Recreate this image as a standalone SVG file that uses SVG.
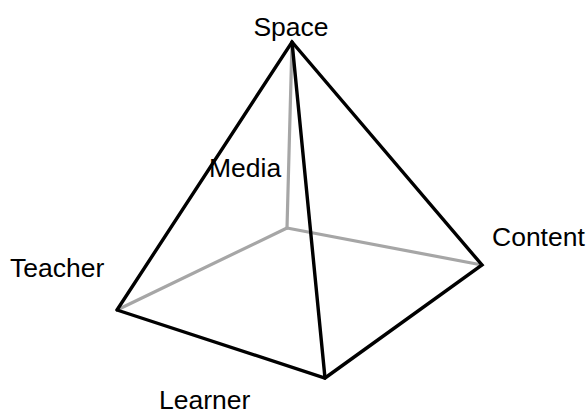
<svg xmlns="http://www.w3.org/2000/svg" width="586" height="416" viewBox="0 0 586 416">
<style>
.lbl{font-family:"Liberation Sans",Arial,sans-serif;font-size:26.5px;fill:#000}
.back{stroke:#a6a6a6;stroke-width:3.2;fill:none;stroke-linecap:round}
.edge{stroke:#000;stroke-width:3.4;fill:none;stroke-linejoin:miter;stroke-linecap:round}
</style>
<rect width="586" height="416" fill="#fff"/>
<g id="connectors">
<line class="back" x1="292" y1="42" x2="287" y2="228"/>
<line class="back" x1="287" y1="228" x2="117" y2="310"/>
<line class="back" x1="287" y1="228" x2="482" y2="265"/>
<polyline class="edge" points="117,310 292,42 482,265 325,378 117,310"/>
<line class="edge" x1="292" y1="42" x2="325" y2="378"/>
</g>
<g id="space"><text class="lbl" x="291" y="36" text-anchor="middle">Space</text></g>
<g id="media"><text class="lbl" x="209" y="177">Media</text></g>
<g id="teacher"><text class="lbl" x="10" y="277">Teacher</text></g>
<g id="content"><text class="lbl" x="492" y="246">Content</text></g>
<g id="learner"><text class="lbl" x="159" y="409">Learner</text></g>
</svg>
